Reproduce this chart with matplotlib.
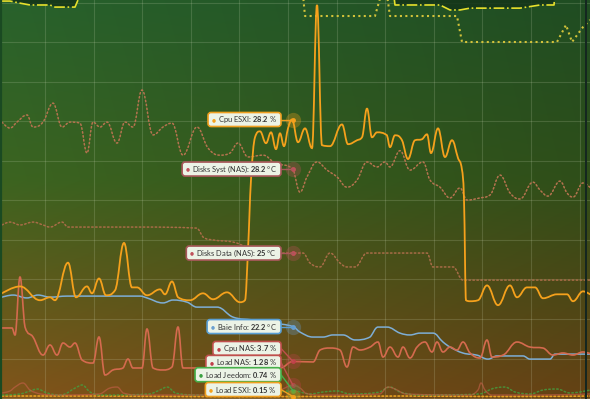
import numpy as np
import matplotlib
matplotlib.use("Agg")
import matplotlib.pyplot as plt
from matplotlib.path import Path
from matplotlib.patches import PathPatch, Polygon, FancyBboxPatch
from matplotlib.lines import Line2D
from matplotlib.transforms import Affine2D, IdentityTransform

# x = sample index (about 5 min per sample), y in % or in degC
cpu_esxi_x = [0, 9, 19, 24, 26.5, 33, 37, 42.5, 45, 48.5, 52, 56.5, 61, 65, 67.5, 72.5, 79, 81.5, 85, 88,
              94, 100.5, 105.5, 112.5, 119, 121.5, 123, 124.5, 126.5, 129, 132, 134.5, 137, 139, 141, 143,
              145, 148, 151.5, 155, 157.5, 160, 164, 170, 173, 177.5, 180, 182.5, 185, 187.5, 192.5, 194,
              196.5, 200, 203, 206.5, 210, 212.5, 214.5, 218, 221.5, 225, 228, 230, 231, 232, 234, 238,
              242.5, 248, 254, 257.5, 262.5, 266.5, 270.5, 277.5, 282.5, 285.5, 290.5, 294]
cpu_esxi = [10.6, 11.3, 9.9, 10.2, 9.9, 13.7, 10.2, 11.3, 10.6, 12.1, 10.4, 10.9, 15.7, 11.2, 11.2, 10.4, 11.0,
            10.5, 11.8, 10.2, 9.9, 10.6, 10.0, 10.7, 9.7, 9.9, 15.0, 22.1, 26.4, 27.0, 25.8, 26.9, 25.2, 26.8,
            25.5, 27.3, 28.2, 25.9, 27.3, 25.3, 39.8, 25.6, 25.5, 27.7, 25.7, 26.1, 26.4, 29.3, 26.4, 26.9,
            26.6, 25.4, 26.6, 26.1, 24.2, 26.1, 26.2, 26.7, 24.8, 27.3, 24.4, 26.1, 24.3, 23.1, 20.1, 9.9,
            9.8, 9.9, 11.4, 9.4, 11.4, 10.2, 11.2, 11.2, 10.1, 10.5, 10.5, 9.8, 10.8, 10.5]

cpu_nas_x = [0, 5, 6.5, 9, 11.5, 15.5, 20.5, 24, 27.5, 30.5, 34, 36.5, 40, 45.5, 48.5, 51.5, 55.5, 60.5, 63,
             65.5, 70, 72.5, 75.5, 80.5, 85, 88, 90.5, 119, 139, 145.5, 155.5, 159, 164, 169, 172.5, 175.5,
             179, 184, 188, 190.5, 194, 198, 200.5, 204, 207.5, 211.5, 215, 217.5, 220.5, 224, 227.5, 230.5,
             234, 239, 242.5, 245, 250.5, 257.5, 264, 270.5, 275.5, 280.5, 285.5, 290.5, 294]
cpu_nas = [7.09, 7.09, 6.38, 12.25, 7.19, 6.18, 4.35, 5.37, 4.35, 5.57, 5.16, 5.57, 3.85, 3.54, 6.18, 2.33,
           2.84, 3.04, 3.95, 3.04, 3.04, 6.99, 3.04, 2.84, 3.14, 7.19, 3.04, 3.04, 3.04, 3.7, 3.65, 4.86, 5.06,
           4.86, 3.14, 5.16, 4.86, 5.16, 5.67, 4.15, 5.16, 4.15, 5.16, 4.05, 5.16, 5.67, 4.66, 5.67, 4.66,
           5.16, 4.86, 5.67, 4.56, 4.05, 5.87, 4.15, 4.35, 5.67, 5.16, 5.06, 4.35, 4.56, 4.35, 4.66, 4.5]

load_nas_x = [0, 4, 6.5, 10.5, 14, 19, 29, 49, 54, 57.5, 60.5, 69, 99, 129, 139, 145.5, 149, 151.5, 159, 189,
              193, 196.5, 201.5, 234, 238, 239.5, 241.5, 245, 269, 294]
load_nas = [0.51, 0.71, 1.11, 1.52, 0.81, 0.41, 0.30, 0.41, 1.01, 1.11, 0.51, 0.30, 0.30, 0.41, 0.81, 1.28,
            1.01, 0.51, 0.30, 0.41, 1.11, 0.91, 0.41, 0.30, 0.81, 1.52, 0.81, 0.30, 0.30, 0.41]

load_jeedom_x = [0, 9, 14, 17.5, 22.5, 29, 37.5, 40, 44, 49, 74, 79, 82.5, 86.5, 99, 119, 129, 134, 145.5, 154,
                 160.5, 167.5, 174, 189, 194, 199, 209, 239, 246.5, 251.5, 256.5, 264, 270.5, 277.5, 284, 294]
load_jeedom = [0.30, 0.41, 0.71, 0.91, 0.51, 0.30, 1.11, 1.32, 0.61, 0.30, 0.41, 0.81, 1.11, 0.51, 0.30, 0.41,
               0.91, 0.51, 0.74, 0.41, 0.61, 0.71, 0.41, 0.61, 1.11, 0.61, 0.30, 0.41, 1.01, 1.11, 0.61, 0.41,
               0.81, 0.91, 0.51, 0.81]

load_esxi_x = [0, 50, 100, 145.5, 200, 250, 294]
load_esxi = [0.2, 0.2, 0.15, 0.15, 0.2, 0.15, 0.2]

disks_syst_x = [0, 4, 7.5, 12.5, 15.5, 20.5, 25.5, 30, 34, 39, 42.5, 45.5, 49, 52.5, 57.5, 61.5, 65.5, 70, 75.5,
                80.5, 85, 90.5, 97.5, 103, 109, 114, 118, 123, 130.5, 136.5, 145.5, 149, 152.5, 157.5, 162.5,
                167.5, 172.5, 177.5, 182.5, 187.5, 191.5, 194, 199, 204, 210.5, 214, 219, 224, 229, 232.5, 239,
                244, 249, 254, 259, 265.5, 269, 273, 279, 282.5, 285.5, 290.5, 294]
disks_syst = [29.99, 29.76, 29.99, 30.26, 29.80, 29.99, 30.71, 29.80, 29.99, 29.95, 28.81, 29.99, 29.80, 29.99,
              29.19, 29.99, 29.80, 31.21, 29.50, 29.80, 29.95, 28.73, 29.80, 29.00, 28.73, 28.81, 29.19, 28.66,
              28.73, 28.43, 28.2, 27.32, 27.90, 28.47, 28.16, 27.90, 27.51, 27.78, 28.47, 28.28, 28.47, 28.28,
              28.9, 28.16, 28.47, 27.78, 27.51, 27.10, 27.48, 27.02, 27.10, 27.21, 27.97, 27.29, 27.06, 27.70,
              27.40, 27.17, 27.74, 27.29, 27.13, 27.67, 27.5]

disks_data_x = [0, 4, 9, 15.5, 20.5, 24, 30, 33, 49, 69, 97.5, 100.5, 105.5, 115.5, 122.5, 132.5, 145.5, 150.5,
                154, 159, 164, 169, 172.5, 176.5, 182.5, 194, 212.5, 215.5, 225.5, 230.5, 290.5, 294]
disks_data = [26.07, 26.18, 26.07, 26.18, 26.07, 25.99, 26.18, 25.99, 25.99, 25.99, 25.95, 25.61, 25.50, 25.42,
              25.23, 25.0, 25.0, 25.0, 24.62, 24.47, 25.0, 24.62, 24.47, 24.47, 25.0, 25.0, 25.0, 24.47, 24.47,
              23.97, 23.97, 23.97]

baie_info_x = [0, 5.5, 12.5, 18, 24, 32.5, 69, 72.5, 80.5, 85.5, 92.5, 97.5, 107.5, 115.5, 125.5, 135.5, 145.5,
               149, 155.5, 160.5, 165.5, 170.5, 176.5, 184, 188, 192.5, 199, 204, 209, 215.5, 220.5, 224, 230.5,
               237.5, 243, 247.5, 260.5, 264, 274, 276.5, 290.5, 294]
baie_info = [23.32, 23.40, 23.29, 23.40, 23.32, 23.36, 23.36, 23.29, 23.10, 23.21, 23.13, 22.94, 22.94, 22.56,
             22.45, 22.33, 22.2, 21.99, 21.80, 21.80, 21.88, 21.88, 21.69, 21.80, 22.18, 22.18, 21.95, 21.88,
             21.95, 21.95, 21.61, 21.42, 21.19, 21.11, 20.96, 21.08, 21.08, 20.96, 20.96, 21.15, 21.15, 21.15]

# two series that run mostly above the visible range
ext_a_x = [0, 4, 9, 14, 24, 26.5, 36.5, 38, 39, 195, 196.5, 219, 224, 229, 234, 259, 269, 276, 277, 294]
ext_a = [34.60, 34.60, 34.52, 34.45, 34.45, 34.37, 34.37, 34.64, 35.4, 35.4, 34.45, 34.45, 34.26, 34.26,
         34.33, 34.33, 34.45, 34.45, 35.4, 35.4]
ext_b_x = [149, 150.5, 151.5, 186.5, 189.5, 192.5, 194, 227.5, 230, 277.5, 282, 285, 290.5, 294]
ext_b = [35.02, 34.83, 34.03, 34.03, 34.83, 34.83, 34.03, 34.03, 33.04, 33.04, 33.69, 33.04, 33.61, 33.88]

hover_x = 145.5

P_LO, P_HI = -0.10, 40.30   # % axis
T_LO, T_HI = 19.44, 34.64   # degC axis

ORANGE = "#f5a11c"
RED = "#d46a4e"
BLUE = "#7eaed6"


def spline_path(xs, ys):
    xs = np.asarray(xs, float)
    ys = np.asarray(ys, float)
    n = len(xs)
    lcx, lcy, rcx, rcy = xs.copy(), ys.copy(), xs.copy(), ys.copy()
    sm, den = 1.5, 2.5
    for i in range(1, n - 1):
        px, py, x, y, nx, ny = xs[i - 1], ys[i - 1], xs[i], ys[i], xs[i + 1], ys[i + 1]
        lx, ly = (sm * x + px) / den, (sm * y + py) / den
        rx, ry = (sm * x + nx) / den, (sm * y + ny) / den
        if rx != lx:
            corr = (ry - ly) * (rx - x) / (rx - lx) + y - ry
            ly += corr
            ry += corr
        if ly > py and ly > y:
            ly = max(py, y); ry = 2 * y - ly
        elif ly < py and ly < y:
            ly = min(py, y); ry = 2 * y - ly
        if ry > ny and ry > y:
            ry = max(ny, y); ly = 2 * y - ry
        elif ry < ny and ry < y:
            ry = min(ny, y); ly = 2 * y - ry
        lcx[i], lcy[i], rcx[i], rcy[i] = lx, ly, rx, ry
    verts = [(xs[0], ys[0])]
    codes = [Path.MOVETO]
    for i in range(1, n):
        verts += [(rcx[i - 1], rcy[i - 1]), (lcx[i], lcy[i]), (xs[i], ys[i])]
        codes += [Path.CURVE4] * 3
    return Path(verts, codes)


fig = plt.figure(figsize=(5.9, 3.99), dpi=100)
ax = fig.add_axes([0, 0, 1, 1])
ax.set_autoscale_on(False)
ax.set_xlim(-1, 294)
ax.set_ylim(P_LO, P_HI)
k = (P_HI - P_LO) / (T_HI - T_LO)
temp_tr = Affine2D().scale(1, k).translate(0, P_LO - T_LO * k) + ax.transData

# background gradient: green on top, brown at the bottom, darker to the right
H, W = 399, 590
yy = np.linspace(0, 1, H)
xx = np.linspace(0, 1, W)[None, :, None]
stops_y = [0, 0.45, 0.7, 1.0]
stops_c = np.array([[40, 98, 44], [60, 100, 32], [92, 92, 28], [130, 84, 26]], float)
col = np.stack([np.interp(yy, stops_y, stops_c[:, c]) for c in range(3)], axis=-1)[:, None, :]
bg = col * (1 - 0.22 * xx)
ax.imshow(np.clip(bg / 255, 0, 1), extent=(-1, 294, P_LO, P_HI), aspect="auto", origin="upper", zorder=0)

ax.set_xticks(21.5 + 24.3 * np.arange(12))
ax.set_yticks(np.arange(0, 41, 4))
ax.set_axisbelow(True)
ax.grid(True, color="#dfe8c8", alpha=0.17, lw=0.8)
ax.tick_params(length=0, labelleft=False, labelbottom=False)
for sp in ax.spines.values():
    sp.set_visible(False)


def draw(xs, ys, tr, color, lw, ls="-", z=3, alpha=1):
    ax.add_patch(PathPatch(spline_path(xs, ys), transform=tr, fill=False, edgecolor=color,
                           lw=lw, linestyle=ls, zorder=z, alpha=alpha, capstyle="round"))


# top area series (dark fill above the dash-dot line)
poly = np.column_stack([ext_a_x + [ext_a_x[-1], ext_a_x[0]], ext_a + [36, 36]])
ax.add_patch(Polygon(poly, closed=True, transform=temp_tr, fc="#143419", ec="none", alpha=0.85, zorder=2))
ax.plot(ext_a_x, ext_a, transform=temp_tr, color="#e6e02c", lw=1.2, ls="-.", zorder=3)
ax.plot(ext_b_x, ext_b, transform=temp_tr, color="#d2c23a", lw=1.5, ls=(0, (1, 1.6)), zorder=3)

draw(disks_syst_x, disks_syst, temp_tr, "#b5734f", 1.1, (0, (1, 1.6)))
draw(disks_data_x, disks_data, temp_tr, "#a86c47", 1.1, (0, (1, 1.6)))
draw(load_esxi_x, load_esxi, ax.transData, "#e8a020", 1.2, (0, (1, 1.4)))
draw(load_jeedom_x, load_jeedom, ax.transData, "#45a040", 1.1, (0, (1, 1.6)), alpha=0.8)
draw(load_nas_x, load_nas, ax.transData, "#c8604a", 1.0, alpha=0.6)
draw(baie_info_x, baie_info, temp_tr, BLUE, 1.1, z=4)
draw(cpu_nas_x, cpu_nas, ax.transData, RED, 1.2, z=4)
draw(cpu_esxi_x, cpu_esxi, ax.transData, ORANGE, 1.3, z=5)

# frame edges
ax.axvline(-0.5, color="#1a4a22", lw=1.6, zorder=6)
ax.axvline(292, color="#142620", lw=1.4, zorder=6)

# tooltips
plt.rcParams["mathtext.fontset"] = "custom"
plt.rcParams["mathtext.rm"] = "Lato"
plt.rcParams["mathtext.bf"] = "Lato:bold"
plt.rcParams["mathtext.it"] = "Lato:italic"

tips = [
    ("Cpu ESXI", "28.2", "%", 28.2, ax.transData, ORANGE, "#f0a020", 0),
    ("Disks Syst (NAS)", "28.2", "°C", 28.2, temp_tr, "#c0505a", "#a8585a", 0),
    ("Disks Data (NAS)", "25", "°C", 25.0, temp_tr, "#c0505a", "#a8585a", 0),
    ("Baie Info", "22.2", "°C", 22.2, temp_tr, "#6a9fd0", "#5a9fd4", 0),
    ("Cpu NAS", "3.7", "%", 3.7, ax.transData, "#c0404a", "#c0504d", 13),
    ("Load NAS", "1.28", "%", 1.28, ax.transData, "#c0404a", "#c0504d", 23),
    ("Load Jeedom", "0.74", "%", 0.74, ax.transData, "#3aa040", "#46b04a", 16),
    ("Load ESXI", "0.15", "%", 0.15, ax.transData, ORANGE, "#f0a020", 7),
]

ident = IdentityTransform()
labels = []
for name, vtxt, unit, val, tr, dot, edge, dy in tips:
    ax.plot(hover_x, val, "o", ms=11, color=dot, alpha=0.3, transform=tr, zorder=7, mec="none")
    ax.plot(hover_x, val, "o", ms=3.5, color=dot, transform=tr, zorder=7, mec="none")
    px, py = tr.transform((hover_x, val))
    t = fig.text(px - 16, py + dy, name + ": $\\mathbf{" + vtxt + "}$ " + unit, transform=ident,
                 ha="right", va="center", fontsize=5.45, family="Lato", color="#333333", zorder=12)
    labels.append((t, px, py, py + dy, dot, edge))

fig.canvas.draw()
renderer = fig.canvas.get_renderer()
for t, px, py, yc, dot, edge in labels:
    bb = t.get_window_extent(renderer)
    x0, x1 = bb.x0 - 10, bb.x1 + 4
    fig.add_artist(Line2D([x1, px], [yc, py], transform=ident, color=edge, lw=1, zorder=9))
    fig.add_artist(FancyBboxPatch((x0, yc - 7), x1 - x0, 14, boxstyle="round,pad=0,rounding_size=3",
                                  transform=ident, fc="#ecf3e6", ec=edge, lw=1.2, zorder=10))
    fig.text(bb.x0 - 4.5, yc, "●", transform=ident, color=dot, fontsize=3.3, family="DejaVu Sans",
             ha="center", va="center", zorder=12)

fig.savefig("out.png", dpi=100)
